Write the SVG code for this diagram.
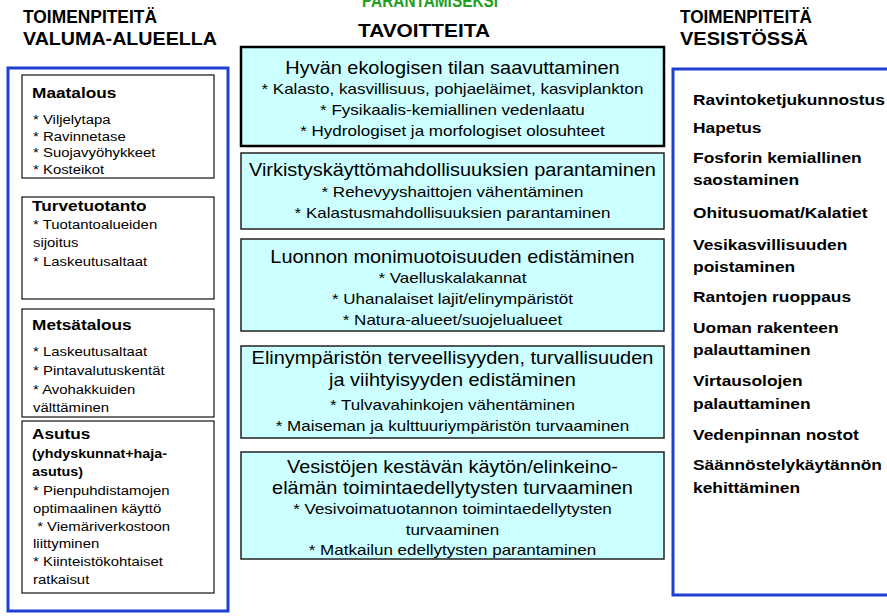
<svg xmlns="http://www.w3.org/2000/svg" width="887" height="616" viewBox="0 0 887 616">
<style>
text{font-family:"Liberation Sans",Arial,sans-serif;fill:#000}
.hd{font-weight:bold;font-size:18px}
.grn{font-weight:bold;font-size:18px;fill:#22a022;text-anchor:middle}
.panel{fill:#fff;stroke:#1e40d0;stroke-width:3}
.ibox{fill:#fff;stroke:#111;stroke-width:1.2}
.gbox{fill:#ccffff;stroke:#222;stroke-width:1.5}
.gbox1{fill:#ccffff;stroke:#000;stroke-width:2.5}
.lt{font-weight:bold;font-size:15.4px}
.ls{font-weight:bold;font-size:12.8px}
.li{font-size:13.3px}
.gt{font-size:17.8px;text-anchor:middle}
.gs{font-size:15.2px;text-anchor:middle}
.ri{font-weight:bold;font-size:15.5px}
</style>
<g id="headers">
<text class="grn" x="430" y="7" textLength="136" lengthAdjust="spacingAndGlyphs">PARANTAMISEKSI</text>
<text class="hd" x="23" y="23" textLength="134" lengthAdjust="spacingAndGlyphs">TOIMENPITEITÄ</text>
<text class="hd" x="23" y="45" textLength="194" lengthAdjust="spacingAndGlyphs">VALUMA-ALUEELLA</text>
<text class="hd" x="358" y="37" textLength="132" lengthAdjust="spacingAndGlyphs">TAVOITTEITA</text>
<text class="hd" x="680" y="23" textLength="132" lengthAdjust="spacingAndGlyphs">TOIMENPITEITÄ</text>
<text class="hd" x="680" y="45" textLength="128" lengthAdjust="spacingAndGlyphs">VESISTÖSSÄ</text>
</g>
<g id="valuma-alue">
<rect class="panel" x="8" y="68" width="220" height="543"/>
</g>
<g id="maatalous">
<rect class="ibox" x="22" y="75" width="192" height="103"/>
<g transform="scale(1.12 1)">
<text class="lt" x="28.6" y="98">Maatalous</text>
<text class="li" x="29.5" y="124">*  Viljelytapa</text>
<text class="li" x="29.5" y="141">* Ravinnetase</text>
<text class="li" x="29.5" y="157.5">* Suojavyöhykkeet</text>
<text class="li" x="29.5" y="174">* Kosteikot</text>
</g>
</g>
<g id="turvetuotanto">
<rect class="ibox" x="22" y="197" width="192" height="102"/>
<g transform="scale(1.12 1)">
<text class="lt" x="28.6" y="211.5">Turvetuotanto</text>
<text class="li" x="29.5" y="229">* Tuotantoalueiden</text>
<text class="li" x="29.5" y="247.5">sijoitus</text>
<text class="li" x="29.5" y="266">* Laskeutusaltaat</text>
</g>
</g>
<g id="metsatalous">
<rect class="ibox" x="22" y="309" width="192" height="108"/>
<g transform="scale(1.12 1)">
<text class="lt" x="28.6" y="330">Metsätalous</text>
<text class="li" x="29.5" y="356.5">* Laskeutusaltaat</text>
<text class="li" x="29.5" y="375.5">* Pintavalutuskentät</text>
<text class="li" x="29.5" y="394">* Avohakkuiden</text>
<text class="li" x="29.5" y="412">välttäminen</text>
</g>
</g>
<g id="asutus">
<rect class="ibox" x="22" y="421" width="192" height="172"/>
<g transform="scale(1.12 1)">
<text class="lt" x="28.6" y="439.5">Asutus</text>
<text class="ls" x="28.6" y="458">(yhdyskunnat+haja-</text>
<text class="ls" x="28.6" y="476.5">asutus)</text>
<text class="li" x="29.5" y="495.5">* Pienpuhdistamojen</text>
<text class="li" x="29.5" y="513">optimaalinen käyttö</text>
<text class="li" x="29.5" y="531" xml:space="preserve"> * Viemäriverkostoon</text>
<text class="li" x="29.5" y="548">liittyminen</text>
<text class="li" x="29.5" y="566">* Kiinteistökohtaiset</text>
<text class="li" x="29.5" y="584">ratkaisut</text>
</g>
</g>
<g id="tavoite-ekologinen">
<rect class="gbox1" x="241" y="47" width="423" height="99"/>
<g transform="scale(1.12 1)">
<text class="gt" x="404" y="74">Hyvän ekologisen tilan saavuttaminen</text>
<text class="gs" x="404" y="94.5">* Kalasto, kasvillisuus, pohjaeläimet, kasviplankton</text>
<text class="gs" x="404" y="115">* Fysikaalis-kemiallinen vedenlaatu</text>
<text class="gs" x="404" y="136">* Hydrologiset ja morfologiset olosuhteet</text>
</g>
</g>
<g id="tavoite-virkistys">
<rect class="gbox" x="241" y="153" width="423" height="76"/>
<g transform="scale(1.12 1)">
<text class="gt" x="404" y="176">Virkistyskäyttömahdollisuuksien parantaminen</text>
<text class="gs" x="404" y="197">* Rehevyyshaittojen vähentäminen</text>
<text class="gs" x="404" y="218">* Kalastusmahdollisuuksien parantaminen</text>
</g>
</g>
<g id="tavoite-luonto">
<rect class="gbox" x="241" y="239" width="423" height="92"/>
<g transform="scale(1.12 1)">
<text class="gt" x="404" y="263">Luonnon monimuotoisuuden edistäminen</text>
<text class="gs" x="404" y="283.5">* Vaelluskalakannat</text>
<text class="gs" x="404" y="304.5">* Uhanalaiset lajit/elinympäristöt</text>
<text class="gs" x="404" y="325.5">* Natura-alueet/suojelualueet</text>
</g>
</g>
<g id="tavoite-elinymparisto">
<rect class="gbox" x="241" y="346" width="423" height="92"/>
<g transform="scale(1.12 1)">
<text class="gt" x="404" y="364.5">Elinympäristön terveellisyyden, turvallisuuden</text>
<text class="gt" x="404" y="386.5">ja viihtyisyyden edistäminen</text>
<text class="gs" x="404" y="410">* Tulvavahinkojen vähentäminen</text>
<text class="gs" x="404" y="431.5">* Maiseman ja kulttuuriympäristön turvaaminen</text>
</g>
</g>
<g id="tavoite-kestava-kaytto">
<rect class="gbox" x="241" y="452" width="423" height="107"/>
<g transform="scale(1.12 1)">
<text class="gt" x="404" y="473">Vesistöjen kestävän käytön/elinkeino-</text>
<text class="gt" x="404" y="494.5">elämän toimintaedellytysten turvaaminen</text>
<text class="gs" x="404" y="514.5">* Vesivoimatuotannon toimintaedellytysten</text>
<text class="gs" x="404" y="535.5">turvaaminen</text>
<text class="gs" x="404" y="555.5">* Matkailun edellytysten parantaminen</text>
</g>
</g>
<g id="vesisto">
<rect class="panel" x="673" y="69" width="240" height="526"/>
<g transform="scale(1.12 1)">
<text class="ri" x="618.8" y="105">Ravintoketjukunnostus</text>
<text class="ri" x="618.8" y="133.5">Hapetus</text>
<text class="ri" x="618.8" y="163.5">Fosforin kemiallinen</text>
<text class="ri" x="618.8" y="185.5">saostaminen</text>
<text class="ri" x="618.8" y="218.5">Ohitusuomat/Kalatiet</text>
<text class="ri" x="618.8" y="250.5">Vesikasvillisuuden</text>
<text class="ri" x="618.8" y="272">poistaminen</text>
<text class="ri" x="618.8" y="302">Rantojen ruoppaus</text>
<text class="ri" x="618.8" y="333.5">Uoman rakenteen</text>
<text class="ri" x="618.8" y="355.5">palauttaminen</text>
<text class="ri" x="618.8" y="386.5">Virtausolojen</text>
<text class="ri" x="618.8" y="408.5">palauttaminen</text>
<text class="ri" x="618.8" y="440.5">Vedenpinnan nostot</text>
<text class="ri" x="618.8" y="470.5">Säännöstelykäytännön</text>
<text class="ri" x="618.8" y="493">kehittäminen</text>
</g>
</g>
<g id="connectors"></g>
</svg>
